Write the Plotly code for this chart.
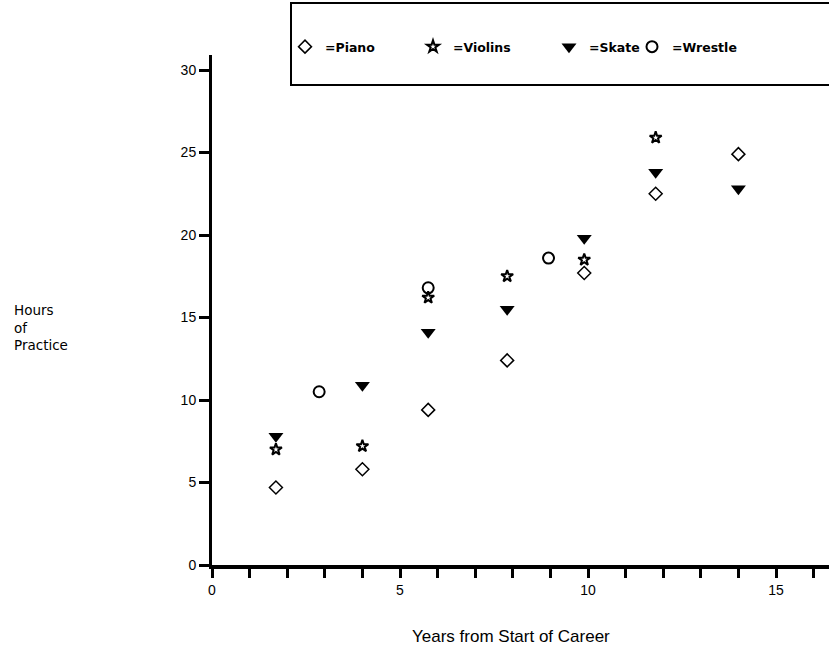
import plotly.graph_objects as go

# ---- data ----
piano_x = [1.7, 4.0, 5.75, 7.85, 9.9, 11.8, 14.0]
piano_y = [4.7, 5.8, 9.4, 12.4, 17.7, 22.5, 24.9]

violins_x = [1.7, 4.0, 5.75, 7.85, 9.9, 11.8]
violins_y = [7.0, 7.2, 16.2, 17.5, 18.5, 25.9]

skate_x = [1.7, 4.0, 5.75, 7.85, 9.9, 11.8, 14.0]
skate_y = [7.8, 10.9, 14.1, 15.5, 19.8, 23.8, 22.8]

wrestle_x = [2.85, 5.75, 8.95]
wrestle_y = [10.5, 16.8, 18.6]

series_names = ["=Piano", "=Violins", "=Skate", "=Wrestle"]
y_ticks = [0, 5, 10, 15, 20, 25, 30]
x_ticks = [0, 5, 10, 15]

# ---- figure ----
W, H = 829, 649
L, R, T, B = 212, 0, 55, 84
plot_w = W - L - R
plot_h = H - T - B
X0_SCREEN = L             # pixel x of data x=0
Y0_SCREEN = T + plot_h    # pixel y of data y=0

def px_x(p):
    return (p - X0_SCREEN) / plot_w

def px_y(p):
    return (Y0_SCREEN - p) / plot_h

fig = go.Figure()

fig.add_trace(go.Scatter(
    x=piano_x, y=piano_y, mode="markers", name=series_names[0], legend="legend",
    marker=dict(symbol="diamond-open", size=10, color="black", line=dict(width=1.5, color="black"))))
fig.add_trace(go.Scatter(
    x=violins_x, y=violins_y, mode="markers", name=series_names[1], legend="legend2",
    marker=dict(symbol="star-open", size=9, color="black", line=dict(width=2, color="black"))))
fig.add_trace(go.Scatter(
    x=skate_x, y=skate_y, mode="markers", name=series_names[2], legend="legend3",
    marker=dict(symbol="triangle-down", size=13, color="black", line=dict(width=0))))
fig.add_trace(go.Scatter(
    x=wrestle_x, y=wrestle_y, mode="markers", name=series_names[3], legend="legend4",
    marker=dict(symbol="circle-open", size=11, color="black", line=dict(width=2, color="black"))))

legend_font = dict(family="DejaVu Sans", size=12.5, color="black", weight="bold")
leg_y = px_y(47)
def leg(x_px):
    return dict(x=px_x(x_px), y=leg_y, xanchor="left", yanchor="middle",
                orientation="h", font=legend_font, bgcolor="rgba(0,0,0,0)",
                borderwidth=0, itemclick=False, itemdoubleclick=False)

fig.update_layout(
    width=W, height=H,
    margin=dict(l=L, r=R, t=T, b=B),
    paper_bgcolor="white", plot_bgcolor="white",
    showlegend=True,
    legend=leg(285),
    legend2=leg(413),
    legend3=leg(549),
    legend4=leg(632),
    font=dict(family="Liberation Sans", color="black"),
)

fig.update_xaxes(
    range=[0, plot_w / 37.6],
    tickmode="array", tickvals=x_ticks, ticktext=[str(v) for v in x_ticks],
    ticks="outside", ticklen=9, tickwidth=3, tickcolor="black",
    minor=dict(dtick=1, tick0=0, ticks="outside", ticklen=9, tickwidth=3, tickcolor="black"),
    showline=True, linewidth=4, linecolor="black",
    showgrid=False, zeroline=False,
    tickfont=dict(family="Liberation Sans", size=14, color="black"),
)
fig.update_yaxes(
    range=[0, plot_h / 16.5],
    tickmode="array", tickvals=y_ticks, ticktext=[str(v) for v in y_ticks],
    ticks="outside", ticklen=10, tickwidth=3, tickcolor="black",
    showline=True, linewidth=3, linecolor="black",
    showgrid=False, zeroline=False,
    tickfont=dict(family="Liberation Sans", size=14, color="black"),
)

# legend frame
fig.add_shape(type="rect", xref="paper", yref="paper",
              x0=px_x(291), x1=px_x(840), y0=px_y(85), y1=px_y(3),
              line=dict(color="black", width=2), fillcolor="rgba(0,0,0,0)", layer="above")

# axis titles
fig.add_annotation(text="Hours<br>of<br>Practice", xref="paper", yref="paper",
                   x=px_x(12), y=px_y(327), xanchor="left", yanchor="middle",
                   align="left", showarrow=False,
                   font=dict(family="DejaVu Sans", size=13.5, color="black"))
fig.add_annotation(text="Years from Start of Career", xref="paper", yref="paper",
                   x=px_x(511), y=px_y(636), xanchor="center", yanchor="middle",
                   showarrow=False,
                   font=dict(family="Liberation Sans", size=17, color="black"))

fig.write_html("out.html", config={"displayModeBar": False},
               post_script="document.body.style.margin='0px';")
